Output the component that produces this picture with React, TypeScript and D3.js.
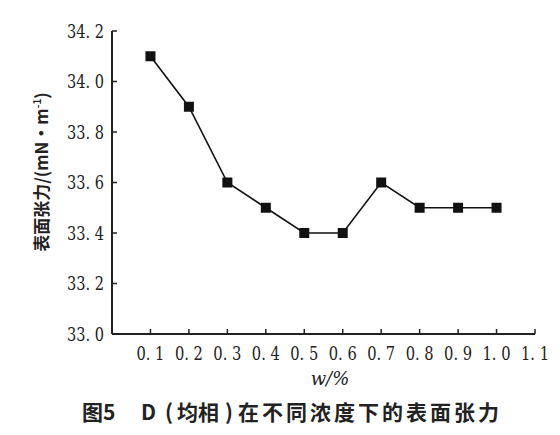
import React from "react";
import * as d3 from "d3";

const xValues = [0.1, 0.2, 0.3, 0.4, 0.5, 0.6, 0.7, 0.8, 0.9, 1.0];
const tension = [34.1, 33.9, 33.6, 33.5, 33.4, 33.4, 33.6, 33.5, 33.5, 33.5];
const xTicks = [0.1, 0.2, 0.3, 0.4, 0.5, 0.6, 0.7, 0.8, 0.9, 1.0, 1.1];
const yTicks = [33.0, 33.2, 33.4, 33.6, 33.8, 34.0, 34.2];

const fmt = (v: number) => v.toFixed(1).replace(".", ". ");

export default function App() {
  const W = 560, H = 435;
  const x = d3.scaleLinear().domain([0, 1.1]).range([112, 535]);
  const y = d3.scaleLinear().domain([33.0, 34.2]).range([334, 31]);
  const line = d3
    .line<number>()
    .x((_, i) => x(xValues[i]))
    .y((d) => y(d));
  const serif = "'DejaVu Serif', 'Liberation Serif', serif";
  const cjk = "'Noto Sans CJK SC', sans-serif";
  return (
    <svg width={W} height={H} style={{ position: "absolute", left: 0, top: 0, background: "#fff" }}>
      {/* axes */}
      <line x1={x(0)} x2={x(0)} y1={y(34.2)} y2={y(33.0)} stroke="#222" strokeWidth={2} />
      <line x1={x(0)} x2={x(1.1)} y1={y(33.0)} y2={y(33.0)} stroke="#222" strokeWidth={2} />
      {yTicks.map((t) => (
        <g key={t}>
          <line x1={x(0)} x2={x(0) + 5} y1={y(t)} y2={y(t)} stroke="#222" strokeWidth={1.5} />
          <text
            x={104}
            y={y(t)}
            dy="0.36em"
            textAnchor="end"
            fontFamily={serif}
            fontSize={19}
            textLength={37}
            lengthAdjust="spacingAndGlyphs"
            fill="#222"
          >
            {fmt(t)}
          </text>
        </g>
      ))}
      {xTicks.map((t) => (
        <g key={t}>
          <line x1={x(t)} x2={x(t)} y1={y(33.0)} y2={y(33.0) - 5} stroke="#222" strokeWidth={1.5} />
          <text
            x={x(t) - 14}
            y={360}
            fontFamily={serif}
            fontSize={19}
            textLength={28}
            lengthAdjust="spacingAndGlyphs"
            fill="#222"
          >
            {fmt(t)}
          </text>
        </g>
      ))}
      {/* series */}
      <path d={line(tension) || ""} fill="none" stroke="#111" strokeWidth={1.6} />
      {tension.map((v, i) => (
        <rect key={i} x={x(xValues[i]) - 5} y={y(v) - 5} width={10} height={10} fill="#111" />
      ))}
      {/* axis titles */}
      <text
        transform={`translate(48,172) rotate(-90)`}
        textAnchor="middle"
        fontFamily={cjk}
        fontWeight="bold"
        fontSize={17}
        fill="#222"
      >
        表面张力/(mN·m<tspan dy={-7} fontSize={10}>-1</tspan><tspan dy={7}>)</tspan>
      </text>
      <text x={330} y={385} textAnchor="middle" fontFamily={serif} fontStyle="italic" fontSize={18} fill="#222">
        w/%
      </text>
      <text y={420} fontFamily={cjk} fontWeight="bold" fontSize={21} fill="#222">
        <tspan x={82}>图5</tspan>
        <tspan x={141}>D</tspan>
        <tspan x={165}>(</tspan>
        <tspan x={177}>均相</tspan>
        <tspan x={225}>)</tspan>
        <tspan x={238} letterSpacing={3}>在不同浓度下的表面张力</tspan>
      </text>
    </svg>
  );
}
